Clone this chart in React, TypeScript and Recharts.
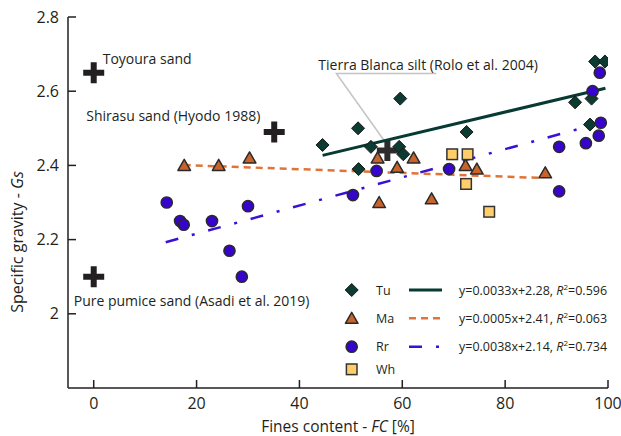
import { ScatterChart, Scatter, XAxis, YAxis, Label } from "recharts";

const FONT = "'Open Sans', 'Noto Sans', sans-serif";
const INK = "#231f20";

// Tu (diamonds)
const tuFc = [44.5, 51.4, 51.5, 53.9, 59.6, 59.4, 60.2, 72.5, 93.6, 96.8, 96.5, 97.5, 99.4];
const tuGs = [2.455, 2.5, 2.39, 2.45, 2.58, 2.45, 2.43, 2.49, 2.57, 2.58, 2.51, 2.68, 2.68];

// Ma (triangles)
const maFc = [17.6, 24.3, 30.3, 55.2, 59.0, 62.2, 55.5, 65.7, 72.3, 74.5, 87.8];
const maGs = [2.4, 2.4, 2.42, 2.42, 2.395, 2.42, 2.3, 2.31, 2.4, 2.39, 2.38];

// Rr (circles)
const rrFc = [14.2, 16.8, 17.5, 23.0, 30.0, 26.4, 28.8, 50.4, 55.0, 69.1, 90.5, 90.5, 95.7, 98.2, 98.6, 97.0, 98.4];
const rrGs = [2.3, 2.25, 2.24, 2.25, 2.29, 2.17, 2.1, 2.32, 2.385, 2.39, 2.45, 2.33, 2.46, 2.48, 2.515, 2.6, 2.65];

// Wh (squares)
const whFc = [69.7, 72.7, 72.4, 76.9];
const whGs = [2.43, 2.43, 2.35, 2.275];

// reference materials (crosses)
const refNames = [
  "Toyoura sand",
  "Shirasu sand (Hyodo 1988)",
  "Tierra Blanca silt (Rolo et al. 2004)",
  "Pure pumice sand (Asadi et al. 2019)",
];
const refFc = [0, 35.1, 57.1, 0];
const refGs = [2.65, 2.49, 2.44, 2.1];

// trend line ends as drawn
const tuFitFc = [44.5, 99.5];
const tuFitGs = [2.427, 2.608];
const maFitFc = [17.5, 87.5];
const maFitGs = [2.401, 2.366];
const rrFitFc = [14, 94];
const rrFitGs = [2.193, 2.497];

const fitTexts = [
  "y=0.0033x+2.28, ",
  "y=0.0005x+2.41, ",
  "y=0.0038x+2.14, ",
];
const r2Values = ["0.596", "0.063", "0.734"];

const xTicks = [0, 20, 40, 60, 80, 100];
const yTicks = [2.0, 2.2, 2.4, 2.6, 2.8];

const zip = (xs: number[], ys: number[]) => xs.map((x, i) => ({ x, y: ys[i] }));

const tuData = zip(tuFc, tuGs);
const maData = zip(maFc, maGs);
const rrData = zip(rrFc, rrGs);
const whData = zip(whFc, whGs);
const refData = refFc.map((x, i) => ({ x, y: refGs[i], name: refNames[i] }));

const COLORS = {
  tu: "#0c3b31",
  tuLine: "#063a33",
  ma: "#c8632c",
  maLine: "#e07438",
  rr: "#3604cc",
  rrLine: "#3b10d6",
  wh: "#ffcd6a",
};

// label offsets relative to each cross
const labelOffset: Record<string, { dx: number; dy: number }> = {
  "Toyoura sand": { dx: 9, dy: -8.5 },
  "Shirasu sand (Hyodo 1988)": { dx: -188, dy: -11 },
  "Tierra Blanca silt (Rolo et al. 2004)": { dx: -69, dy: -81 },
  "Pure pumice sand (Asadi et al. 2019)": { dx: -20, dy: 29 },
};

const Diamond = ({ cx, cy }: any) => (
  <path
    d={`M${cx},${cy - 6.5}L${cx + 6.5},${cy}L${cx},${cy + 6.5}L${cx - 6.5},${cy}Z`}
    fill={COLORS.tu}
    stroke="#1a1a1a"
    strokeWidth={1}
  />
);

const Triangle = ({ cx, cy }: any) => (
  <path
    d={`M${cx},${cy - 6}L${cx + 6.3},${cy + 5}L${cx - 6.3},${cy + 5}Z`}
    fill={COLORS.ma}
    stroke="#2a2a2a"
    strokeWidth={1.5}
    strokeLinejoin="round"
  />
);

const Circle = ({ cx, cy }: any) => (
  <circle cx={cx} cy={cy} r={5.6} fill={COLORS.rr} stroke="#2a2a2a" strokeWidth={1.5} />
);

const Square = ({ cx, cy }: any) => (
  <rect x={cx - 5.3} y={cy - 5.3} width={10.6} height={10.6} fill={COLORS.wh} stroke="#333" strokeWidth={1.5} />
);

const Cross = ({ cx, cy, payload }: any) => {
  const off = labelOffset[payload.name];
  const isTierra = payload.name.startsWith("Tierra");
  return (
    <g>
      {isTierra && (
        <polyline
          points={`${cx + 49},${cy - 77} ${cx - 51},${cy - 77} ${cx + 1},${cy - 4}`}
          fill="none"
          stroke="#c4c4c4"
          strokeWidth={1.5}
        />
      )}
      <path
        d={`M${cx - 3},${cy - 10.5}h6v7.5h7.5v6h-7.5v7.5h-6v-7.5h-7.5v-6h7.5Z`}
        fill={isTierra ? "#2e2b2c" : INK}
      />
      <text x={cx + off.dx} y={cy + off.dy} fontSize={14} fontFamily={FONT} fill={INK}>
        {payload.name}
      </text>
    </g>
  );
};

const Nothing = () => <g />;

const XTitle = ({ viewBox }: any) => (
  <text x={viewBox.x + viewBox.width / 2} y={432} textAnchor="middle" fontSize={15.5} fontFamily={FONT} fill={INK}>
    Fines content - <tspan fontStyle="italic">FC</tspan> [%]
  </text>
);

const YTitle = () => (
  <text
    x={0}
    y={0}
    transform="translate(23,242) rotate(-90)"
    textAnchor="middle"
    fontSize={16}
    fontFamily={FONT}
    fill={INK}
  >
    Specific gravity - <tspan fontStyle="italic">Gs</tspan>
  </text>
);

const legendRows = [
  { name: "Tu", Shape: Diamond, line: { stroke: COLORS.tuLine, dash: undefined } },
  { name: "Ma", Shape: Triangle, line: { stroke: COLORS.maLine, dash: "7 5" } },
  { name: "Rr", Shape: Circle, line: { stroke: COLORS.rrLine, dash: "13 14 3 14" } },
  { name: "Wh", Shape: Square, line: null },
];
const legendY = [290, 318.3, 346.7, 369.3];

const LegendBox = () => (
  <svg width={621} height={436} style={{ position: "absolute", left: 0, top: 0, pointerEvents: "none" }}>
    {legendRows.map((row, i) => {
      const y = legendY[i];
      const S = row.Shape;
      return (
        <g key={row.name}>
          <S cx={351.7} cy={y} />
          <text x={376} y={y + 4.5} fontSize={12.5} fontFamily={FONT} fill={INK}>
            {row.name}
          </text>
          {row.line && (
            <line
              x1={409}
              x2={442}
              y1={y}
              y2={y}
              stroke={row.line.stroke}
              strokeWidth={i === 0 ? 3 : 2.5}
              strokeDasharray={row.line.dash}
            />
          )}
          {row.line && (
            <text x={459} y={y + 4.5} fontSize={12.5} fontFamily={FONT} fill={INK}>
              {fitTexts[i]}
              <tspan fontStyle="italic">R</tspan>
              <tspan fontSize={8} dy={-5}>2</tspan>
              <tspan dy={5}>={r2Values[i]}</tspan>
            </text>
          )}
        </g>
      );
    })}
  </svg>
);

export default function App() {
  return (
    <div style={{ position: "absolute", left: 0, top: 0, width: 621, height: 436, background: "#fff" }}>
      <ScatterChart width={621} height={436} margin={{ top: 17, right: 13, bottom: 8, left: 8 }}>
        <XAxis
          type="number"
          dataKey="x"
          domain={[-5, 100]}
          ticks={xTicks}
          height={40}
          tickSize={-8}
          tickMargin={18}
          stroke={INK}
          strokeWidth={1.5}
          tick={{ fill: INK, fontSize: 16, fontFamily: FONT }}
          allowDataOverflow
        >
          <Label content={XTitle} />
        </XAxis>
        <YAxis
          type="number"
          dataKey="y"
          domain={[1.8, 2.8]}
          ticks={yTicks}
          width={60}
          tickSize={-8}
          tickMargin={17}
          stroke={INK}
          strokeWidth={1.5}
          tick={{ fill: INK, fontSize: 16, fontFamily: FONT }}
          tickFormatter={(v: number) => String(+v.toFixed(1))}
          allowDataOverflow
        >
          <Label content={YTitle} />
        </YAxis>
        <Scatter data={refData} shape={Cross} isAnimationActive={false} />
        <Scatter
          data={zip(tuFitFc, tuFitGs)}
          shape={Nothing}
          line={{ stroke: COLORS.tuLine, strokeWidth: 3 }}
          isAnimationActive={false}
        />
        <Scatter
          data={zip(maFitFc, maFitGs)}
          shape={Nothing}
          line={{ stroke: COLORS.maLine, strokeWidth: 2.5, strokeDasharray: "7 5" }}
          isAnimationActive={false}
        />
        <Scatter
          data={zip(rrFitFc, rrFitGs)}
          shape={Nothing}
          line={{ stroke: COLORS.rrLine, strokeWidth: 2.5, strokeDasharray: "13 14 3 14" }}
          isAnimationActive={false}
        />
        <Scatter data={tuData} shape={Diamond} isAnimationActive={false} />
        <Scatter data={maData} shape={Triangle} isAnimationActive={false} />
        <Scatter data={rrData} shape={Circle} isAnimationActive={false} />
        <Scatter data={whData} shape={Square} isAnimationActive={false} />
      </ScatterChart>
      <LegendBox />
    </div>
  );
}
